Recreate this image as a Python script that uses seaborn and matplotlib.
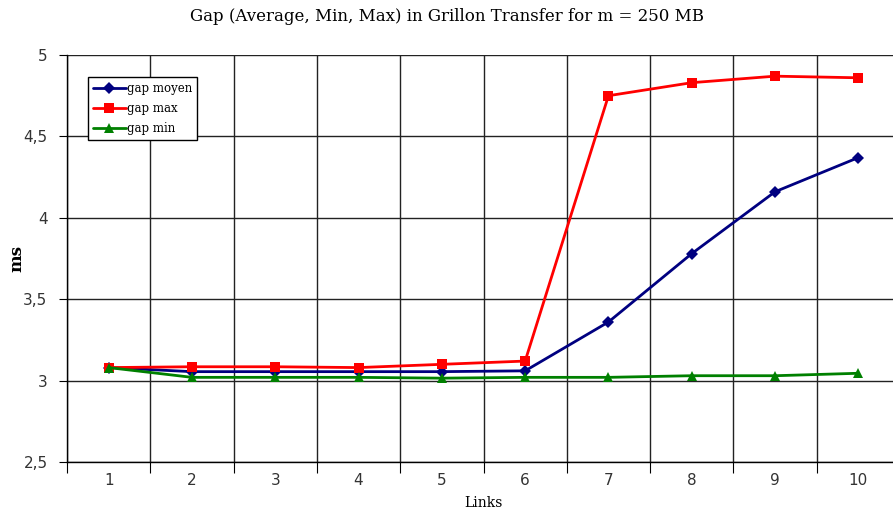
import numpy as np
import pandas as pd
import matplotlib.pyplot as plt
import seaborn as sns

links = [1, 2, 3, 4, 5, 6, 7, 8, 9, 10]
gap_moyen = [3.08, 3.055, 3.055, 3.055, 3.055, 3.06, 3.36, 3.78, 4.16, 4.37]
gap_max = [3.08, 3.085, 3.085, 3.08, 3.10, 3.12, 4.75, 4.83, 4.87, 4.86]
gap_min = [3.08, 3.02, 3.02, 3.02, 3.015, 3.02, 3.02, 3.03, 3.03, 3.045]
y_ticks = [2.5, 3, 3.5, 4, 4.5, 5]
y_labels = ['2,5', '3', '3,5', '4', '4,5', '5']

df = pd.DataFrame({'Links': links * 3,
                   'ms': gap_moyen + gap_max + gap_min,
                   'serie': ['gap moyen'] * 10 + ['gap max'] * 10 + ['gap min'] * 10})

sns.set_style('white')
plt.rcParams['font.family'] = ['DejaVu Sans']
plt.rcParams['text.color'] = 'black'
plt.rcParams['axes.labelcolor'] = 'black'

fig = plt.figure(figsize=(8.93, 5.23), dpi=100)
ax = fig.add_axes([67/893, 61/523, (900-67)/893, (462-55)/523])

palette = {'gap moyen': '#000080', 'gap max': '#ff0000', 'gap min': '#008000'}
markers = {'gap moyen': 'D', 'gap max': 's', 'gap min': '^'}
sns.lineplot(data=df, x='Links', y='ms', hue='serie', style='serie', palette=palette,
             markers=markers, dashes=False, linewidth=2, markersize=7,
             markeredgewidth=0, ax=ax)
for ln in ax.lines:
    if ln.get_marker() == 'D':
        ln.set_markersize(6)

ax.set_xlim(0.5, 10.5)
ax.set_ylim(2.5, 5)
ax.set_yticks(y_ticks)
ax.set_yticklabels(y_labels, fontsize=11, color='#333333')
ax.set_xticks(np.arange(0.5, 11, 1))
ax.set_xticklabels([])
ax.set_xticks(links, minor=True)
ax.set_xticklabels([str(v) for v in links], minor=True, fontsize=11, color='#333333')
ax.tick_params(axis='x', which='major', length=8, color='black', direction='out', bottom=True)
ax.tick_params(axis='x', which='minor', length=0, pad=8)
ax.tick_params(axis='y', length=6, color='black', direction='out', left=True, pad=8)
ax.grid(True, which='major', color='#222222', linewidth=1)
ax.set_axisbelow(True)
for s in ['top', 'right']:
    ax.spines[s].set_visible(False)
for s in ['left', 'bottom']:
    ax.spines[s].set_color('black')
    ax.spines[s].set_linewidth(1)

ax.set_xlabel('Links', family='DejaVu Serif', fontsize=10, labelpad=6)
ax.set_ylabel('ms', family='DejaVu Serif', fontsize=12, fontweight='bold')
ax.yaxis.set_label_coords(-0.05, 0.5)
fig.suptitle('Gap (Average, Min, Max) in Grillon Transfer for m = 250 MB',
             family='DejaVu Serif', fontsize=12, y=0.985)

leg = ax.legend(loc='upper left', bbox_to_anchor=(0.025, 0.945), fancybox=False,
                edgecolor='black', framealpha=1, prop={'family': 'DejaVu Serif', 'size': 8.5},
                handlelength=2.8, handletextpad=0.1, borderpad=0.4, labelspacing=0.6,
                borderaxespad=0)
leg.get_frame().set_linewidth(1)

fig.savefig('out.png', dpi=100)
